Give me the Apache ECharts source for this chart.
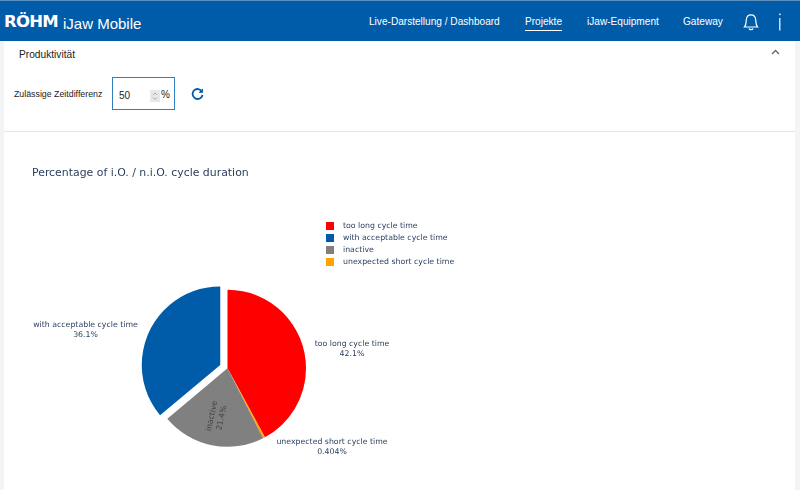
<!DOCTYPE html>
<html>
<head>
<meta charset="utf-8">
<style>
    html, body {
        margin: 0;
        width: 800px;
        height: 490px;
        overflow: hidden;
        background: #ffffff;
        font-family: "Liberation Sans", Arial, sans-serif;
    }
    .topbar {
        position: absolute;
        left: 0; top: 0;
        width: 800px;
        height: 41px;
        background: #005ca9;
        border-top: 1px solid #5b8fbd;
        box-sizing: border-box;
        color: #ffffff;
    }
    .logo {
        position: absolute;
        left: 4px; top: 11px;
        font: 900 16.5px/20px "DejaVu Sans", sans-serif;
        letter-spacing: -0.8px;
    }
    .app {
        position: absolute;
        left: 63px; top: 13px;
        font-size: 15px;
        line-height: 20px;
    }
    .nav {
        position: absolute;
        top: 13px;
        font-size: 10.1px;
        line-height: 16px;
        white-space: nowrap;
    }
    .nav.active {
        border-bottom: 1px solid #ffffff;
        padding-bottom: 0;
    }
    .side {
        position: absolute;
        top: 41px;
        width: 4px;
        height: 449px;
        background: #f3f4f6;
    }
    .panel-title {
        position: absolute;
        left: 19px; top: 47px;
        font-size: 10.2px;
        line-height: 16px;
        color: #222222;
    }
    .field-label {
        position: absolute;
        left: 14px; top: 87px;
        font-size: 8.8px;
        line-height: 14px;
        color: #222222;
    }
    .field {
        position: absolute;
        left: 112px; top: 77px;
        width: 63px;
        height: 33px;
        border: 1px solid #2f7fc1;
        box-sizing: border-box;
        font-size: 10px;
        color: #222222;
    }
    .field .val { position: absolute; left: 6px; top: 11px; line-height: 14px; }
    .field .spin { position: absolute; left: 37px; top: 12px; width: 10px; height: 12px; background: #e8e8e8; }
    .field .pct { position: absolute; left: 48px; top: 10px; line-height: 14px; }
    .divider {
        position: absolute;
        left: 4px; top: 131px;
        width: 791px;
        height: 1px;
        background: #e4e4e4;
    }
    #container {
        position: absolute;
        left: 0; top: 132px;
        width: 800px;
        height: 358px;
    }
</style>
</head>
<body>
<div class="topbar">
    <div class="logo">RÖHM</div>
    <div class="app">iJaw Mobile</div>
    <div class="nav" style="left:369px">Live-Darstellung / Dashboard</div>
    <div class="nav active" style="left:525px">Projekte</div>
    <div class="nav" style="left:587px">iJaw-Equipment</div>
    <div class="nav" style="left:683px">Gateway</div>
    <svg style="position:absolute;left:743px;top:12px" width="16" height="18" viewBox="0 0 16 18" fill="none" stroke="#fff" stroke-width="1.2">
        <path d="M1.5 14 C3.5 12 3 9 3.3 6.5 C3.7 3.5 5.8 1.8 8 1.8 C10.2 1.8 12.3 3.5 12.7 6.5 C13 9 12.5 12 14.5 14 Z"/>
        <path d="M6 15.5 C6.5 17 9.5 17 10 15.5"/>
    </svg>
    <svg style="position:absolute;left:778px;top:12px" width="4" height="18" viewBox="0 0 4 18" fill="#fff">
        <rect x="1.2" y="0.5" width="1.4" height="1.6"/>
        <rect x="1.2" y="5" width="1.2" height="12.5"/>
    </svg>
</div>
<div class="side" style="left:0"></div>
<div class="side" style="left:795px;width:5px"></div>
<div class="panel-title">Produktivität</div>
<svg style="position:absolute;left:771px;top:49px" width="9" height="6" viewBox="0 0 9 6" fill="none" stroke="#666" stroke-width="1.3">
    <path d="M1 5 L4.5 1.5 L8 5"/>
</svg>
<div class="field-label">Zulässige Zeitdifferenz</div>
<div class="field">
    <span class="val">50</span>
    <span class="spin">
        <svg style="position:absolute;left:2px;top:1px" width="6" height="10" viewBox="0 0 6 10" fill="none" stroke="#999" stroke-width="0.8">
            <path d="M1 4 L3 2 L5 4"/><path d="M1 6.5 L3 8.5 L5 6.5"/>
        </svg>
    </span>
    <span class="pct">%</span>
</div>
<svg style="position:absolute;left:191px;top:88px" width="13" height="13" viewBox="0 0 13 13" fill="none" stroke="#005ca9" stroke-width="1.8">
    <path d="M11 3.6 A5 5 0 1 0 11.5 7"/>
    <path d="M11.6 0.8 L11.6 4.4 L8 4.4" fill="#005ca9" stroke-width="0.8"/>
</svg>
<div class="divider"></div>
<div id="container"></div>

<script src="https://cdn.jsdelivr.net/npm/echarts@6/dist/echarts.min.js"></script>
<script>
    var fontName = '"DejaVu Sans", Verdana, sans-serif';
    var textColor = '#2a3f5f';

    // slices in clockwise order from 12 o'clock
    var slices = [
        {name: 'too long cycle time', value: 42.1, percent: '42.1%', color: '#ff0000', labelAt: [352, 217]},
        {name: 'unexpected short cycle time', value: 0.404, percent: '0.404%', color: '#ffa500', labelAt: [332, 315]},
        {name: 'inactive', value: 21.4, percent: '21.4%', color: '#808080', labelAt: [217, 285], inside: true},
        // selected state ignores labelLayout, nudged with padding and a blank line instead
        {name: 'with acceptable cycle time', value: 36.1, percent: '36.1%', color: '#005ca9', labelAt: [85, 198], pulled: true, labelPadding: [0, 30, 0, 0], labelPrefix: '\n'}
    ];

    var chart = echarts.init(document.getElementById('container'));
    chart.setOption({
        animation: false,
        title: {
            text: 'Percentage of i.O. / n.i.O. cycle duration',
            left: 32,
            top: 36,
            padding: 0,
            textStyle: {
                fontFamily: fontName,
                fontWeight: 'normal',
                fontSize: 10.9,
                color: textColor
            }
        },
        legend: {
            orient: 'vertical',
            left: 326,
            top: 90,
            padding: 0,
            itemWidth: 8,
            itemHeight: 8,
            itemGap: 4,
            icon: 'rect',
            selectedMode: false,
            data: ['too long cycle time', 'with acceptable cycle time', 'inactive', 'unexpected short cycle time'],
            textStyle: {
                fontFamily: fontName,
                fontSize: 7.8,
                color: textColor,
                padding: [0, 0, 0, 4]
            }
        },
        series: [{
            type: 'pie',
            center: [227.5, 236.3],
            radius: [0, 78.5],
            startAngle: 90,
            clockwise: true,
            minAngle: 0,
            selectedMode: 'multiple',
            selectedOffset: 8,
            avoidLabelOverlap: false,
            labelLine: {show: false},
            emphasis: {disabled: true},
            data: slices.map(function (s) {
                return {
                    name: s.name,
                    value: s.value,
                    selected: !!s.pulled,
                    itemStyle: {color: s.color},
                    label: {
                        show: true,
                        position: s.inside ? 'inside' : 'outside',
                        rotate: s.inside ? 78 : 0,
                        formatter: (s.labelPrefix || '') + s.name + '\n' + s.percent,
                        fontFamily: fontName,
                        fontSize: 7.8,
                        lineHeight: 10,
                        align: 'center',
                        verticalAlign: 'middle',
                        padding: s.labelPadding || 0,
                        color: s.inside ? '#444444' : textColor
                    }
                };
            }),
            labelLayout: function (params) {
                var at = slices[params.dataIndex].labelAt;
                return {x: at[0], y: at[1], align: 'center', verticalAlign: 'middle'};
            }
        }]
    });
</script>
</body>
</html>
